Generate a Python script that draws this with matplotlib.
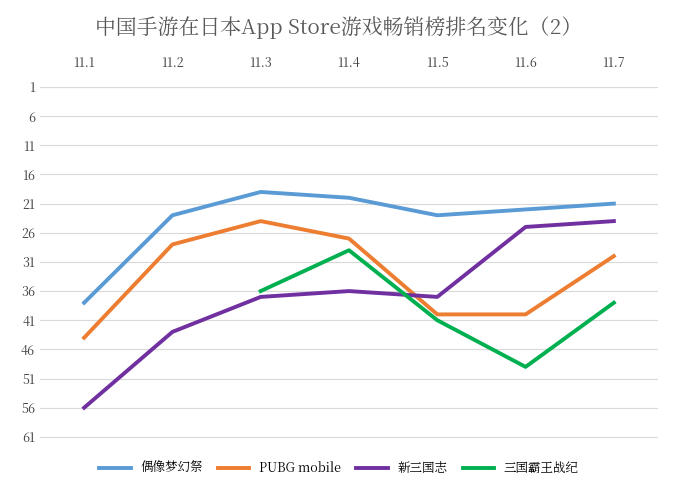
import numpy as np
import matplotlib.pyplot as plt
from matplotlib import font_manager

cjk = [f.name for f in font_manager.fontManager.ttflist if 'CJK' in f.name]
plt.rcParams['font.family'] = 'sans-serif'
plt.rcParams['font.sans-serif'] = (['Noto Sans CJK SC'] + cjk + ['DejaVu Sans'])

dates = ['11.1', '11.2', '11.3', '11.4', '11.5', '11.6', '11.7']
ensemble = [38, 23, 19, 20, 23, 22, 21]
pubg = [44, 28, 24, 27, 40, 40, 30]
sanguo = [56, 43, 37, 36, 37, 25, 24]
bawang = [np.nan, np.nan, 36, 29, 41, 49, 38]

series = [('偶像梦幻祭', ensemble, '#5B9BD5'),
          ('PUBG mobile', pubg, '#ED7D31'),
          ('新三国志', sanguo, '#7030A0'),
          ('三国霸王战纪', bawang, '#00B050')]

fig = plt.figure(figsize=(6.78, 4.94), dpi=100)
ax = fig.add_axes([40 / 678, 1 - 466 / 494, 618 / 678, (466 - 87) / 494])

x = np.arange(len(dates))
for name, vals, col in series:
    ax.plot(x, vals, color=col, linewidth=2.8, label=name)

ax.set_xlim(-0.5, len(dates) - 0.5)
ax.set_ylim(66, 1)
ax.set_yticks(range(1, 66, 5))
ax.grid(axis='y', color='#D9D9D9', linewidth=0.8)
ax.set_axisbelow(True)
ax.xaxis.tick_top()
ax.set_xticks(x, dates)
ax.tick_params(length=0, labelsize=9, colors='#404040')
ax.tick_params(axis='x', pad=12)
for s in ax.spines.values():
    s.set_visible(False)
ax.axhline(1, color='#D9D9D9', linewidth=0.8)

fig.text(0.5, 1 - 28 / 494, '中国手游在日本App Store游戏畅销榜排名变化（2）',
         ha='center', va='center', fontsize=15, color='#595959')
fig.legend(loc='center', bbox_to_anchor=(0.5, 1 - 468 / 494), ncol=4,
           frameon=False, fontsize=9, handlelength=2.5, columnspacing=1.2)

fig.savefig('out.png', dpi=100)
